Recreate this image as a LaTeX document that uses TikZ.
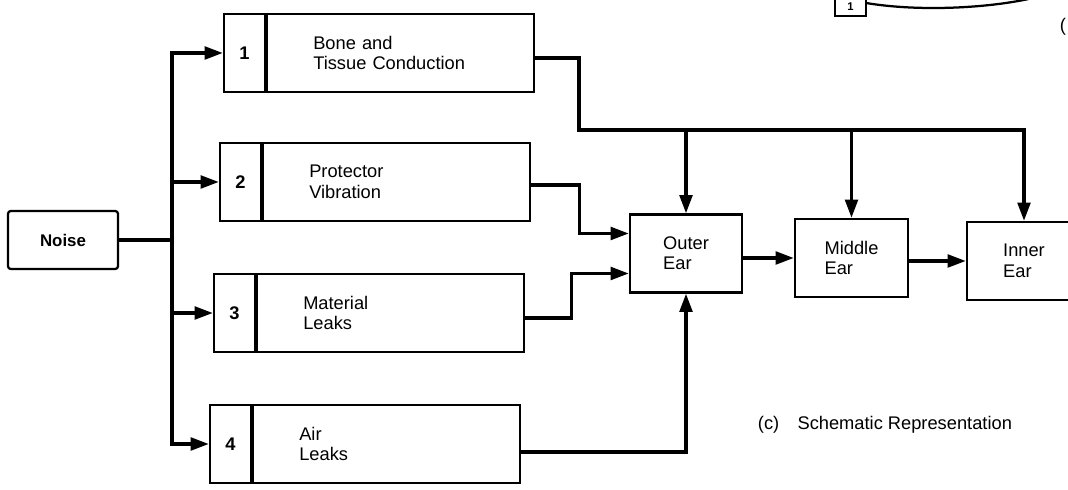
\documentclass[tikz,border=0pt]{standalone}
\usepackage{fontspec}
\setmainfont{Liberation Sans}
\usepackage{tikz}
\usetikzlibrary{positioning, arrows.meta, calc}

\tikzset{
  numbox/.style={draw, line width=1.6pt, minimum width=1.025cm, minimum height=1.95cm, inner sep=0pt,
                 font=\fontsize{13}{14.5}\selectfont\bfseries},
  pathbox/.style={draw, line width=1.6pt, anchor=west, minimum height=1.95cm,
                  text width=4.375cm, inner xsep=1.15cm, align=left},
  earbox/.style={draw, line width=1.6pt, minimum height=1.95cm, align=left},
  wire/.style={line width=2.4pt, line cap=rect},
  flow/.style={line width=2.4pt, -{Triangle[length=13pt,width=9pt]}}
}

\begin{document}
\begin{tikzpicture}[x=0.025cm, y=-0.025cm, font=\fontsize{13}{14.5}\selectfont]
  \useasboundingbox (0,0) rectangle (1068,490);
  \clip (0,0) rectangle (1068,490);

  % source
  \node[draw, line width=1.6pt, rounded corners=2pt, minimum width=2.75cm, minimum height=1.45cm,
        font=\fontsize{12}{14}\selectfont\bfseries] (noise) at (63,240) {Noise};
  \coordinate (split) at (172,240);

  % the four paths
  \node[numbox] (n1) at (244.5,53) {1};
  \node[pathbox] (b1) at (n1.east) {Bone and\\Tissue Conduction};
  \node[numbox] (n2) at (240.5,182) {2};
  \node[pathbox] (b2) at (n2.east) {Protector\\Vibration};
  \node[numbox] (n3) at (234.5,313) {3};
  \node[pathbox] (b3) at (n3.east) {Material\\Leaks};
  \node[numbox] (n4) at (230.5,444) {4};
  \node[pathbox] (b4) at (n4.east) {Air\\Leaks};

  % the ear
  \node[earbox, minimum width=2.8cm] (outer) at (686,253.5) {Outer\\Ear};
  \node[earbox, minimum width=2.825cm] (middle) at (851.5,258) {Middle\\Ear};
  \node[earbox, minimum width=2.85cm] (inner) at (1024,261) {Inner\\Ear};

  \draw[wire] (noise.east) -- (split);
  \draw[wire] (split |- n1.west) -- (split |- n4.west);
  \foreach \i in {1,...,4}
    \draw[flow] (split |- n\i.west) -- (n\i.west);

  % bone and tissue conduction feeds all three
  \coordinate (bc) at (579,130);
  \draw[wire] ($(b1.east)+(0,5)$) -| (bc) -- (bc -| inner);
  \foreach \e in {outer,middle,inner}
    \draw[flow] (bc -| \e) -- (\e.north);

  \coordinate (in2) at ($(outer.west)+(0,-20)$);
  \coordinate (in3) at ($(outer.west)+(0,20)$);
  \draw[flow] ($(b2.east)+(0,3)$) -- ++(48,0) |- (in2);
  \draw[flow] ($(b3.east)+(0,5)$) -- ++(46,0) |- (in3);
  \draw[flow] ($(b4.east)+(0,8)$) -| (outer.south);

  \draw[flow] (middle.west -| outer.east) -- (middle.west);
  \draw[flow] (inner.west -| middle.east) -- (inner.west);

  \node[anchor=west] (caption) at (753,425) {(c)\quad Schematic Representation};

  % edge of the neighbouring figure
  \draw[line width=1.6pt] (835,-4) rectangle (866,16);
  \node[font=\fontsize{8}{9}\selectfont\bfseries, inner sep=0pt] (frag) at (850.5,7) {1};
  \draw[line width=1.6pt] (866,3) .. controls (920,12) and (990,8) .. (1033,-2);
  \node (paren) at (1063,27) {(};
\end{tikzpicture}
\end{document}
